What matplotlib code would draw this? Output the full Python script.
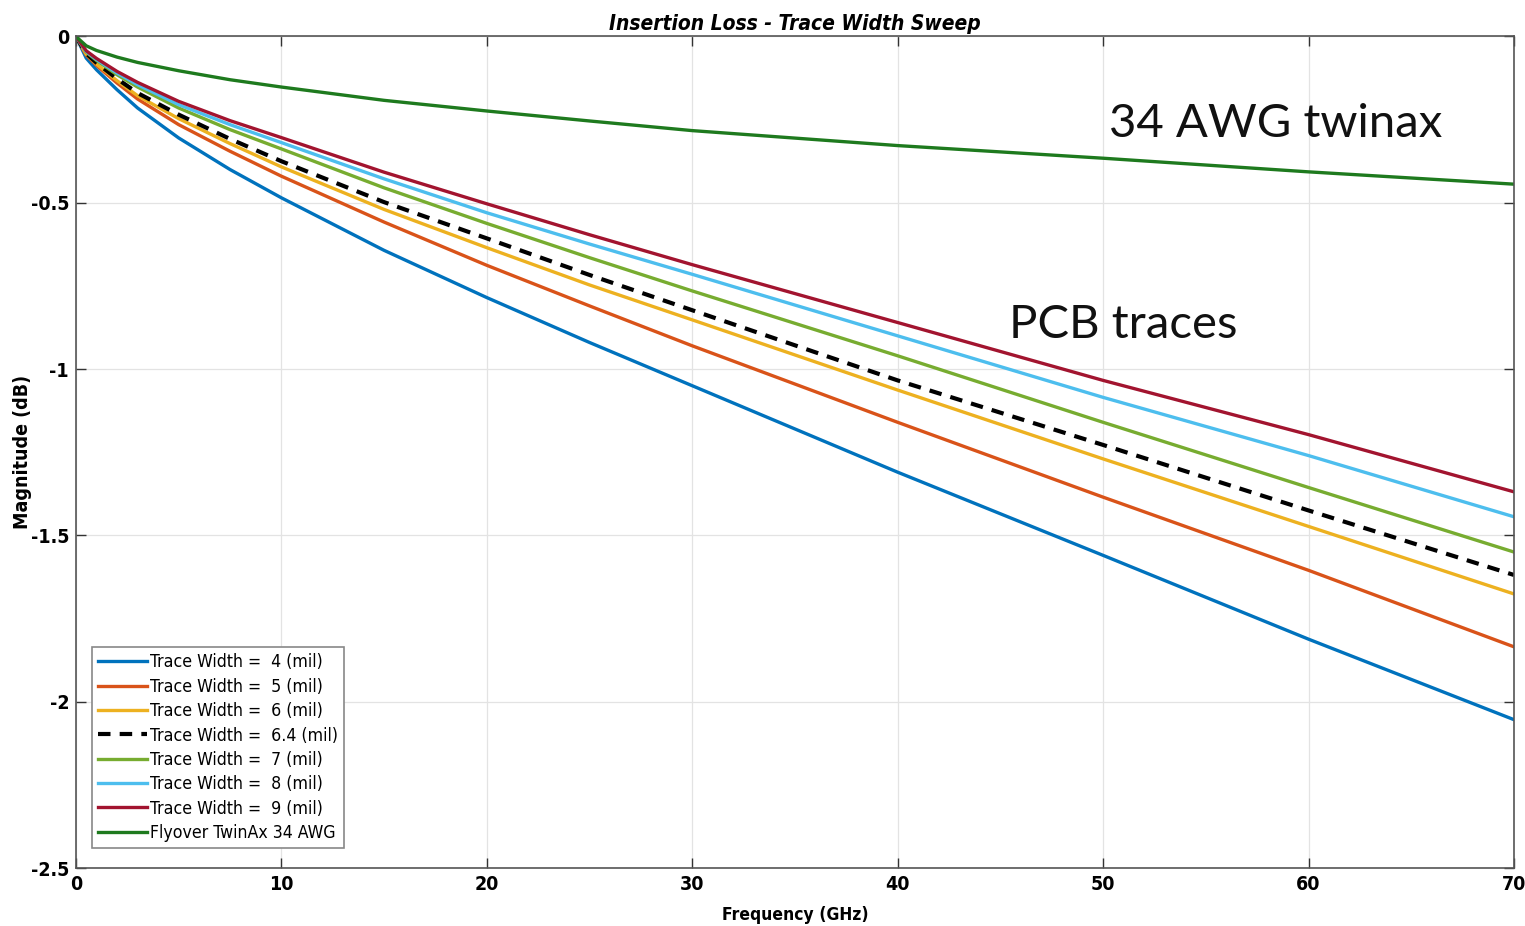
import matplotlib
matplotlib.use("Agg")
import matplotlib.pyplot as plt

plt.rcParams['font.family'] = ['DejaVu Sans']
plt.rcParams['font.stretch'] = 'condensed'
plt.rcParams['axes.unicode_minus'] = False

# frequency points (GHz)
freq = [0, 0.5, 1, 2, 3, 5, 7.5, 10, 15, 20, 25, 30, 40, 50, 60, 70]

# insertion loss (dB) per trace width
w4 = [0, -0.065, -0.10, -0.16, -0.215, -0.305, -0.40, -0.485, -0.643, -0.785, -0.92, -1.05, -1.31, -1.56, -1.812, -2.054]
w5 = [0, -0.056, -0.087, -0.14, -0.188, -0.265, -0.345, -0.42, -0.558, -0.688, -0.81, -0.93, -1.16, -1.385, -1.605, -1.835]
w6 = [0, -0.053, -0.083, -0.133, -0.178, -0.247, -0.322, -0.392, -0.52, -0.635, -0.747, -0.852, -1.063, -1.27, -1.473, -1.676]
w64 = [0, -0.051, -0.079, -0.127, -0.170, -0.235, -0.308, -0.375, -0.498, -0.607, -0.717, -0.823, -1.034, -1.228, -1.425, -1.619]
w7 = [0, -0.047, -0.072, -0.115, -0.152, -0.215, -0.28, -0.338, -0.455, -0.562, -0.665, -0.765, -0.96, -1.16, -1.356, -1.55]
w8 = [0, -0.045, -0.069, -0.11, -0.145, -0.205, -0.265, -0.319, -0.428, -0.53, -0.624, -0.715, -0.90, -1.085, -1.26, -1.444]
w9 = [0, -0.043, -0.066, -0.105, -0.138, -0.195, -0.253, -0.304, -0.408, -0.503, -0.596, -0.686, -0.86, -1.034, -1.197, -1.369]
twinax = [0, -0.028, -0.042, -0.062, -0.078, -0.103, -0.13, -0.152, -0.192, -0.224, -0.254, -0.283, -0.328, -0.366, -0.407, -0.444]

labels = ['Trace Width =  4 (mil)', 'Trace Width =  5 (mil)', 'Trace Width =  6 (mil)',
          'Trace Width =  6.4 (mil)', 'Trace Width =  7 (mil)', 'Trace Width =  8 (mil)',
          'Trace Width =  9 (mil)', 'Flyover TwinAx 34 AWG']
colors = ['#0072BD', '#D95319', '#EDB120', 'black', '#77AC30', '#4DBEEE', '#A2142F', '#1E7A1E']
series = [w4, w5, w6, w64, w7, w8, w9, twinax]

fig = plt.figure(figsize=(15.25, 9.26), dpi=100)
ax = fig.add_axes([0.0498, 0.0626, 0.943, 0.898])

for ys, lab, c in zip(series, labels, colors):
    if c == 'black':
        ax.plot(freq, ys, color=c, lw=3, ls=(0, (3, 2.2)), label=lab)
    else:
        ax.plot(freq, ys, color=c, lw=2.4, label=lab)

ax.set_xlim(0, 70)
ax.set_ylim(-2.5, 0)
ax.set_xticks([0, 10, 20, 30, 40, 50, 60, 70])
ax.set_yticks([0, -0.5, -1, -1.5, -2, -2.5])
ax.set_yticklabels(['0', '-0.5', '-1', '-1.5', '-2', '-2.5'])
ax.grid(True, color='#e3e3e3', lw=0.9)
ax.tick_params(direction='in', top=True, right=True, length=7, width=1,
               labelsize=14, color='#333333', pad=5)
for lbl in ax.get_xticklabels() + ax.get_yticklabels():
    lbl.set_fontweight('bold')
for sp in ax.spines.values():
    sp.set_color('#555555')
    sp.set_linewidth(1.2)

ax.set_title('Insertion Loss - Trace Width Sweep', fontsize=15, fontweight='bold',
             fontstyle='italic', pad=5)
ax.set_xlabel('Frequency (GHz)', fontsize=12.5, fontweight='bold', labelpad=9)
ax.set_ylabel('Magnitude (dB)', fontsize=14, fontweight='bold', labelpad=-1)

leg = ax.legend(loc='lower left', bbox_to_anchor=(0.011, 0.024), fontsize=12.7,
                frameon=True, fancybox=False, edgecolor='#888888', framealpha=1,
                handlelength=2.8, handletextpad=0.15, labelspacing=0.36,
                borderpad=0.35, borderaxespad=0)
leg.get_frame().set_linewidth(1.2)

ax.text(50.3, -0.303, '34 AWG twinax', fontsize=34, family=['Lato', 'DejaVu Sans'],
        fontweight='normal', fontstretch='normal', va='baseline', ha='left', color='#111111')
ax.text(45.4, -0.905, 'PCB traces', fontsize=34, family=['Lato', 'DejaVu Sans'],
        fontweight='normal', fontstretch='normal', va='baseline', ha='left', color='#111111')

fig.savefig('out.png', dpi=100)
